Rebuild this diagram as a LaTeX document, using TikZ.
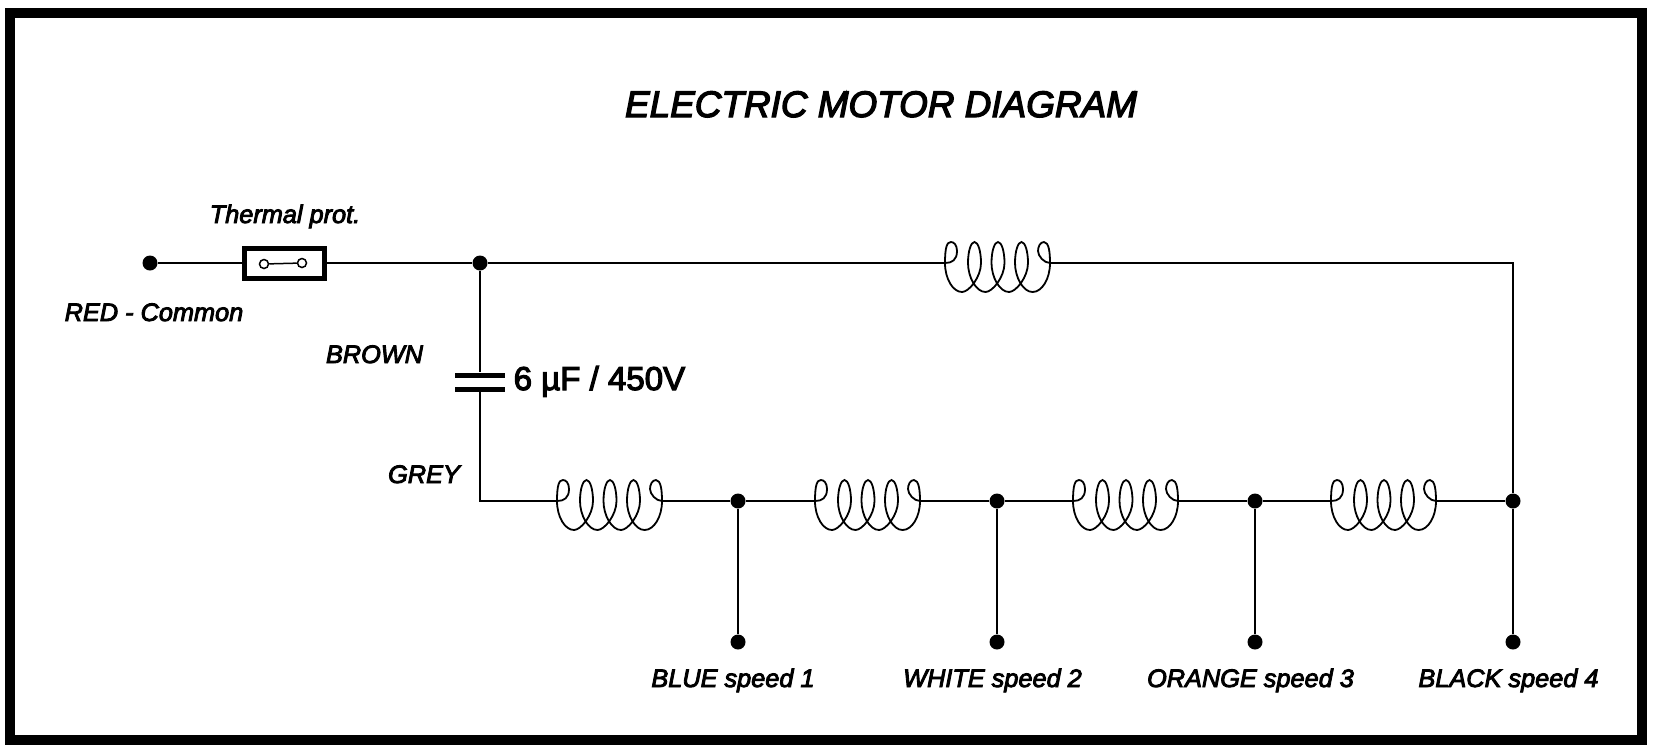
\documentclass[tikz,border=0pt]{standalone}
\usepackage{fontspec}
\setmainfont[ItalicFeatures={FakeBold=3.5},UprightFeatures={FakeBold=3.5}]{Liberation Sans}
\begin{document}
\begin{tikzpicture}[
        dot/.style={circle, fill=black, minimum size=1.5mm, inner sep=0pt},
        wire/.style={line width=0.2mm},
        plate/.style={fill=black, minimum width=5mm, minimum height=0.5mm, inner sep=0pt},
        protbox/.style={draw, line width=0.5mm, minimum width=8mm, minimum height=3mm, inner sep=0pt},
        contact/.style={circle, draw, line width=0.15mm, minimum size=0.9mm, inner sep=0pt},
        wirelabel/.style={anchor=base, inner sep=0pt, font=\fontsize{7.2}{8}\selectfont\itshape},
        pics/coil/.style={code={
            \draw[line width=0.18mm] (0,0) .. controls (.07,0) and (.12,.03) .. (.12,.12) .. controls (.12,.18) and (.09,.21) .. (.06,.21) .. controls (.02,.21) and (0,.16) .. (0,0) .. controls (0,-.16) and (.08,-.29) .. (.17,-.29)
                .. controls (.24,-.29) and (.36,-.14) .. (.36,0) .. controls (.36,.12) and (.33,.21) .. (.295,.21) .. controls (.26,.21) and (.23,.12) .. (.23,0) .. controls (.23,-.14) and (.31,-.29) .. (.405,-.29)
                .. controls (.475,-.29) and (.595,-.14) .. (.595,0) .. controls (.595,.12) and (.565,.21) .. (.53,.21) .. controls (.495,.21) and (.465,.12) .. (.465,0) .. controls (.465,-.14) and (.545,-.29) .. (.64,-.29)
                .. controls (.71,-.29) and (.83,-.14) .. (.83,0) .. controls (.83,.12) and (.80,.21) .. (.765,.21) .. controls (.73,.21) and (.70,.12) .. (.70,0) .. controls (.70,-.14) and (.78,-.29) .. (.875,-.29)
                .. controls (.97,-.29) and (1.05,-.16) .. (1.05,0) .. controls (1.05,.1) and (1.04,.21) .. (.99,.21) .. controls (.95,.21) and (.93,.16) .. (.93,.12) .. controls (.93,.07) and (.99,0) .. (1.05,0);
            \coordinate (-in) at (0,0);
            \coordinate (-out) at (1.05,0);
        }},
    ]
	\useasboundingbox (0,0) rectangle (16.54,-7.5);
	\draw[line width=1mm] (0.10,-0.13) rectangle (16.42,-7.40);

	\node[anchor=base, inner sep=0pt, font=\fontsize{10.5}{12}\selectfont\itshape] (title) at (8.81,-1.17) {ELECTRIC MOTOR DIAGRAM};

	\node[dot] (red) at (1.50,-2.63) {};
	\node[protbox] (prot) at (2.845,-2.63) {};
	\node[contact] (sw_a) at (2.64,-2.64) {};
	\node[contact] (sw_b) at (3.02,-2.63) {};
	\node[dot] (top) at (4.80,-2.63) {};
	\node[plate] (cap_a) at (4.80,-3.75) {};
	\node[plate] (cap_b) at (4.80,-3.89) {};
	\node[dot] (j_1) at (7.38,-5.01) {};
	\node[dot] (j_2) at (9.97,-5.01) {};
	\node[dot] (j_3) at (12.55,-5.01) {};
	\node[dot] (j_4) at (15.13,-5.01) {};
	\node[dot] (s_1) at (7.38,-6.42) {};
	\node[dot] (s_2) at (9.97,-6.42) {};
	\node[dot] (s_3) at (12.55,-6.42) {};
	\node[dot] (s_4) at (15.13,-6.42) {};

	\pic (c_0) at (9.45,-2.63) {coil};
	\pic (c_1) at (5.57,-5.01) {coil};
	\pic (c_2) at (8.15,-5.01) {coil};
	\pic (c_3) at (10.73,-5.01) {coil};
	\pic (c_4) at (13.31,-5.01) {coil};

	\draw[wire] (red) -- (prot);
	\draw[wire] (prot) -- (top);
	\draw[wire] (top) -- (c_0-in);
	\draw[wire] (c_0-out) -| (j_4);
	\draw[wire] (top) -- (cap_a);
	\draw[wire] (cap_b) |- (c_1-in);
	\draw[wire] (c_1-out) -- (j_1);
	\draw[wire] (j_1) -- (c_2-in);
	\draw[wire] (c_2-out) -- (j_2);
	\draw[wire] (j_2) -- (c_3-in);
	\draw[wire] (c_3-out) -- (j_3);
	\draw[wire] (j_3) -- (c_4-in);
	\draw[wire] (c_4-out) -- (j_4);
	\draw[wire] (j_1) -- (s_1);
	\draw[wire] (j_2) -- (s_2);
	\draw[wire] (j_3) -- (s_3);
	\draw[wire] (j_4) -- (s_4);
	\draw[line width=0.15mm] (sw_a) -- (sw_b);

	\node[wirelabel] (l_prot) at (2.85,-2.23) {Thermal prot.};
	\node[wirelabel] (l_red) at (1.54,-3.21) {RED - Common};
	\node[wirelabel] (l_brown) at (3.745,-3.63) {BROWN};
	\node[wirelabel] (l_grey) at (4.24,-4.83) {GREY};
	\node[anchor=base west, inner sep=0pt, font=\fontsize{9.4}{12}\selectfont] (l_cap) at (5.13,-3.90) {6 µF / 450V};
	\node[wirelabel] (l_1) at (7.33,-6.87) {BLUE speed 1};
	\node[wirelabel] (l_2) at (9.925,-6.87) {WHITE speed 2};
	\node[wirelabel] (l_3) at (12.505,-6.87) {ORANGE speed 3};
	\node[wirelabel] (l_4) at (15.085,-6.87) {BLACK speed 4};

    \end{tikzpicture}
\end{document}
